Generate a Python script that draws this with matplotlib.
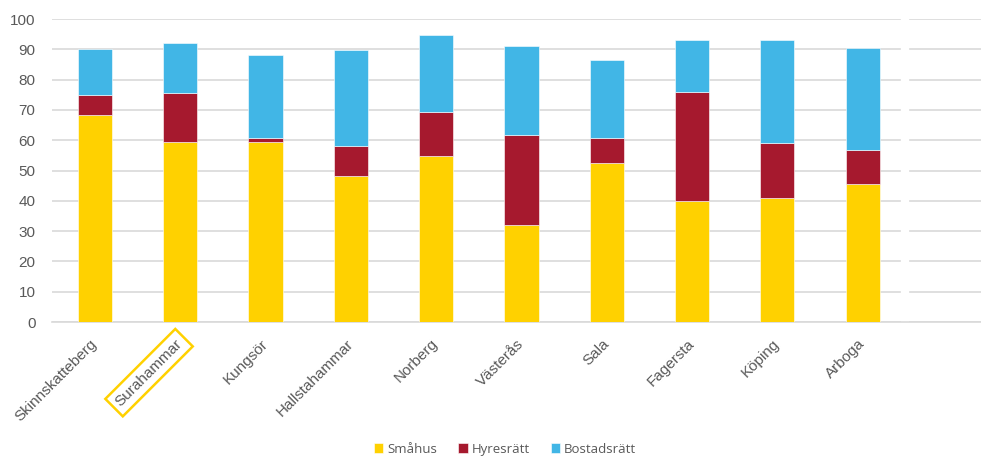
import matplotlib
matplotlib.use('Agg')
import matplotlib.pyplot as plt
import numpy as np

plt.rcParams['font.family'] = ['Liberation Sans', 'DejaVu Sans']

# data
kommuner = ['Skinnskatteberg', 'Surahammar', 'Kungsör', 'Hallstahammar', 'Norberg',
            'Västerås', 'Sala', 'Fagersta', 'Köping', 'Arboga']
smahus = [68.2, 59.5, 59.5, 48.3, 54.8, 32.1, 52.6, 40.0, 40.9, 45.6]
hyresratt = [6.7, 16.0, 1.3, 9.9, 14.6, 29.5, 8.2, 36.0, 18.2, 11.3]
bostadsratt = [15.3, 16.5, 27.3, 31.7, 25.2, 29.5, 25.6, 17.0, 33.9, 33.4]
series_names = ['Småhus', 'Hyresrätt', 'Bostadsrätt']

colors = ['#FFD100', '#A6192E', '#41B6E6']

fig = plt.figure(figsize=(9.81, 4.57), dpi=100)
ax = fig.add_axes([0.0533, 0.2954, 0.9565, 0.663])

x = np.arange(len(kommuner))
w = 0.40
bottom = np.zeros(len(kommuner))
for vals, name, c in zip([smahus, hyresratt, bostadsratt], series_names, colors):
    ax.bar(x, vals, w, bottom=bottom, color=c, label=name, zorder=3,
           edgecolor='white', linewidth=0.4)
    bottom += np.array(vals)

ax.set_xlim(-0.5, len(kommuner) + 0.5)
ax.set_ylim(0, 100)
ax.set_yticks(np.arange(0, 101, 10))
ax.yaxis.grid(True, color='#d9d9d9', linewidth=1.2, zorder=0)
ax.set_axisbelow(True)
# vit lucka i rutnätet efter sista stapeln
ax.axvline(9.5, color='white', lw=6, zorder=1)

for s in ['top', 'right', 'left']:
    ax.spines[s].set_visible(False)
ax.spines['bottom'].set_color('#d9d9d9')
ax.spines['bottom'].set_linewidth(1.2)
ax.tick_params(axis='both', length=0, colors='#595959', labelsize=11)
ax.tick_params(axis='y', pad=12)

ax.set_xticks(x)
ax.set_xticklabels(kommuner, rotation=45, ha='right', va='center',
                   rotation_mode='anchor')
ax.tick_params(axis='x', pad=14)
for lbl in ax.get_xticklabels():
    if lbl.get_text() == 'Surahammar':
        lbl.set_bbox(dict(boxstyle='square,pad=0.35', fc='none',
                          ec='#FFD100', lw=1.8))

leg = fig.legend(loc='center', bbox_to_anchor=(0.515, 0.017), ncol=3,
                 frameon=False, handlelength=0.7, handleheight=0.7,
                 handletextpad=0.3, columnspacing=1.6,
                 prop={'family': 'Open Sans', 'size': 9.5})
for t in leg.get_texts():
    t.set_color('#595959')

fig.savefig('out.png', dpi=100, facecolor='white')
